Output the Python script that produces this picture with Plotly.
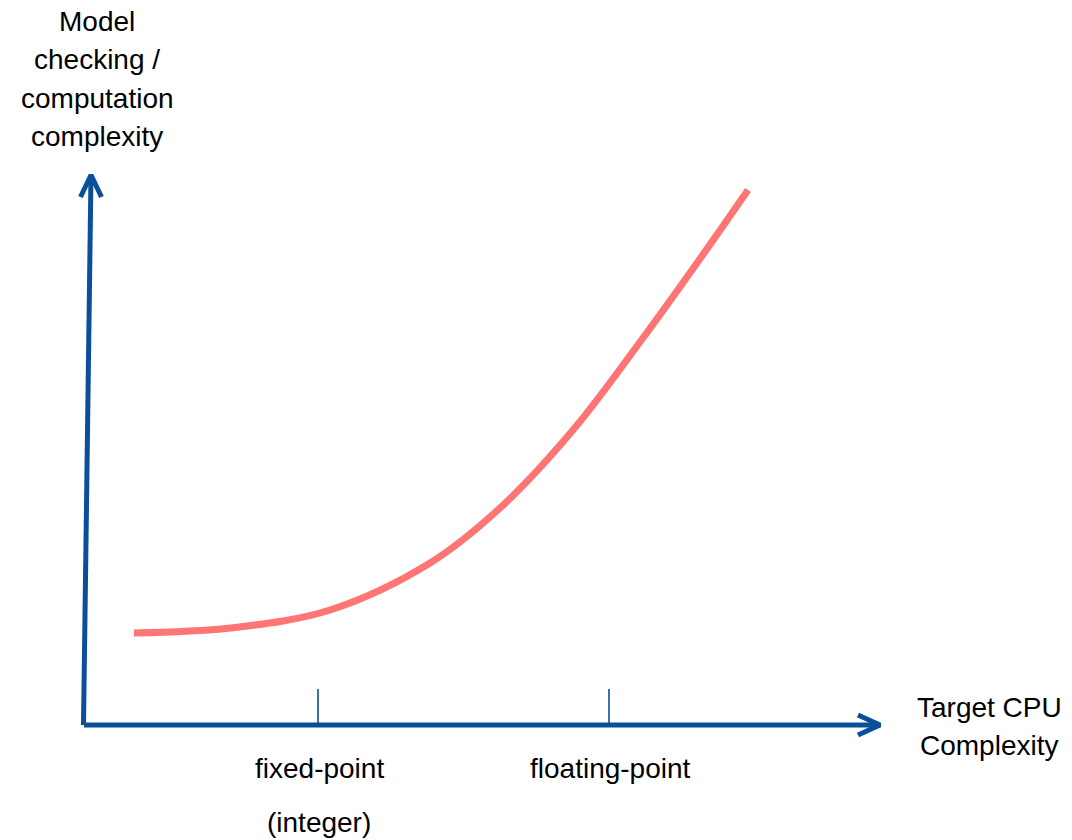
import plotly.graph_objects as go

# Data (units: complexity, origin at axis corner)
curve_x = [0.50, 1.46, 2.46, 3.46, 4.16, 4.89, 5.56, 6.13, 6.64]
curve_y = [0.92, 0.97, 1.15, 1.62, 2.17, 2.95, 3.83, 4.62, 5.35]

tick_positions = [2.34, 5.25]
tick_labels = ["fixed-point<br>(integer)", "floating-point"]

y_axis_title = ["Model", "checking /", "computation", "complexity"]
x_axis_title = ["Target CPU", "Complexity"]

AXIS_COLOR = "#0B4E9B"
CURVE_COLOR = "#FF7474"
FONT = "Arial, Liberation Sans, sans-serif"

x_axis_end = 7.96
y_axis_base_x = -0.005
y_axis_top = (0.07, 5.50)
tick_height = 0.36

fig = go.Figure()

# Y axis line + chevron head
fig.add_trace(go.Scatter(x=[y_axis_base_x, y_axis_top[0]], y=[0, y_axis_top[1]], mode="lines",
                         line=dict(color=AXIS_COLOR, width=5), hoverinfo="skip"))
fig.add_trace(go.Scatter(x=[y_axis_top[0] - 0.105, y_axis_top[0], y_axis_top[0] + 0.105],
                         y=[y_axis_top[1] - 0.22, y_axis_top[1], y_axis_top[1] - 0.22], mode="lines",
                         line=dict(color=AXIS_COLOR, width=5), hoverinfo="skip"))
# X axis line + chevron head
fig.add_trace(go.Scatter(x=[0, x_axis_end], y=[0, 0], mode="lines",
                         line=dict(color=AXIS_COLOR, width=5), hoverinfo="skip"))
fig.add_trace(go.Scatter(x=[x_axis_end - 0.22, x_axis_end, x_axis_end - 0.22],
                         y=[0.10, 0, -0.10], mode="lines",
                         line=dict(color=AXIS_COLOR, width=5), hoverinfo="skip"))
# Tick marks
for tx in tick_positions:
    fig.add_trace(go.Scatter(x=[tx, tx], y=[0, tick_height], mode="lines",
                             line=dict(color=AXIS_COLOR, width=1.6), hoverinfo="skip"))

# Curve
fig.add_trace(go.Scatter(x=curve_x, y=curve_y, mode="lines",
                         line=dict(color=CURVE_COLOR, width=7, shape="spline", smoothing=1.0),
                         hoverinfo="skip"))

annotations = []
# Y axis title lines
for i, t in enumerate(y_axis_title):
    annotations.append(dict(x=0.13, y=7.04 - i * 0.386, text=t, showarrow=False,
                            xanchor="center", yanchor="middle",
                            font=dict(family=FONT, size=28, color="black")))
for i, t in enumerate(x_axis_title):
    annotations.append(dict(x=9.05, y=0.18 - i * 0.38, text=t, showarrow=False,
                            xanchor="center", yanchor="middle",
                            font=dict(family=FONT, size=28, color="black")))
# Tick labels
tick_label_lines = [lbl.split("<br>") for lbl in tick_labels]
for tx, lines in zip(tick_positions, tick_label_lines):
    for j, t in enumerate(lines):
        annotations.append(dict(x=tx + 0.01, y=-0.43 - j * 0.545, text=t, showarrow=False,
                                xanchor="center", yanchor="middle",
                                font=dict(family=FONT, size=28, color="black")))

fig.update_layout(
    width=1072, height=840,
    margin=dict(l=0, r=0, t=0, b=0),
    paper_bgcolor="white", plot_bgcolor="white",
    showlegend=False,
    xaxis=dict(range=[-0.84, 9.88], visible=False, fixedrange=True),
    yaxis=dict(range=[-1.15, 7.25], visible=False, fixedrange=True),
    annotations=annotations,
)

# Remove the default page margin so the figure fills the window exactly.
fig.write_html("out.html", config={"displayModeBar": False},
               post_script="document.body.style.margin='0px';document.body.style.overflow='hidden';")
